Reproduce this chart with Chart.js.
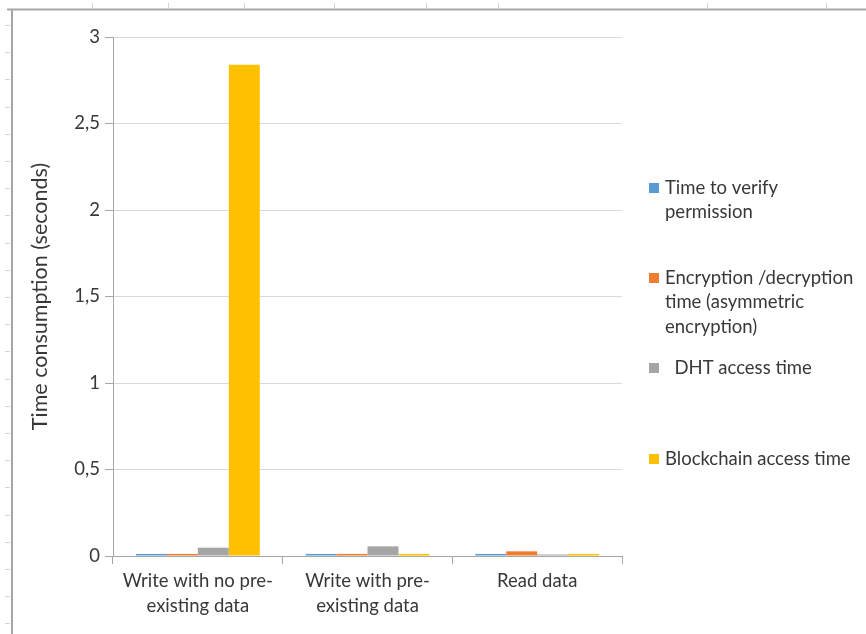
<!DOCTYPE html>
<html><head><meta charset="utf-8">
<script src="https://cdn.jsdelivr.net/npm/chart.js@4/dist/chart.umd.min.js"></script>
<style>html,body{margin:0;padding:0;background:#fff;overflow:hidden}#wrap{width:866px;height:634px;position:relative}</style>
</head><body><div id="wrap"><canvas id="c" width="866" height="634"></canvas></div>
<script>
// Categories, series and tick labels
const categories = [["Write with no pre-", "existing data"], ["Write with pre-", "existing data"], "Read data"];
const seriesNames = [
  ["Time to verify", "permission"],
  ["Encryption /decryption", "time (asymmetric", "encryption)"],
  ["  DHT access time"],
  ["Blockchain access time"]
];
const verifyTime = [0.012, 0.012, 0.012];
const cryptoTime = [0.012, 0.012, 0.027];
const dhtTime = [0.048, 0.056, 0.009];
const blockchainTime = [2.84, 0.012, 0.012];
const yTickLabels = ["0", "0,5", "1", "1,5", "2", "2,5", "3"];
const seriesColors = ["#5b9bd5", "#ed7d31", "#a5a5a5", "#ffc000"];

const FONT = "Lato, 'Open Sans', sans-serif";
const TEXT = "#383838";

// Sheet-style frame around the chart object
const framePlugin = {
  id: "frame",
  beforeDraw(chart) {
    const ctx = chart.ctx;
    ctx.save();
    ctx.fillStyle = "#fff";
    ctx.fillRect(0, 0, chart.width, chart.height);
    ctx.strokeStyle = "#d4d4d4";
    ctx.lineWidth = 1;
    [92, 168, 244, 334, 426, 498, 707, 826].forEach(x => {
      ctx.beginPath(); ctx.moveTo(x + 0.5, 3); ctx.lineTo(x + 0.5, 8); ctx.stroke();
    });
    for (let y = 25; y < chart.height; y += 27.2) {
      ctx.beginPath(); ctx.moveTo(5, Math.round(y) + 0.5); ctx.lineTo(10, Math.round(y) + 0.5); ctx.stroke();
    }
    ctx.strokeStyle = "#a6a6a6";
    ctx.lineWidth = 2;
    ctx.beginPath(); ctx.moveTo(7, 9.5); ctx.lineTo(chart.width, 9.5); ctx.stroke();
    ctx.beginPath(); ctx.moveTo(12, 9.5); ctx.lineTo(12, chart.height); ctx.stroke();
    ctx.restore();
  }
};

// Legend on the right, one block per series
const sideLegend = {
  id: "sideLegend",
  afterDraw(chart) {
    const ctx = chart.ctx;
    const rows = [188, 278, 368, 459];
    ctx.save();
    ctx.font = "18.5px " + FONT;
    ctx.textBaseline = "middle";
    ctx.textAlign = "left";
    chart.data.datasets.forEach((ds, i) => {
      const y = rows[i];
      ctx.fillStyle = ds.backgroundColor;
      ctx.fillRect(649, y - 5, 10, 10);
      ctx.fillStyle = TEXT;
      const lines = Array.isArray(ds.label) ? ds.label : [ds.label];
      lines.forEach((t, k) => ctx.fillText(t, 665, y + k * 24.5));
    });
    ctx.restore();
  }
};

new Chart(document.getElementById("c"), {
  type: "bar",
  data: {
    labels: categories,
    datasets: [
      { label: seriesNames[0], data: verifyTime, backgroundColor: seriesColors[0] },
      { label: seriesNames[1], data: cryptoTime, backgroundColor: seriesColors[1] },
      { label: seriesNames[2], data: dhtTime, backgroundColor: seriesColors[2] },
      { label: seriesNames[3], data: blockchainTime, backgroundColor: seriesColors[3] }
    ]
  },
  options: {
    responsive: false,
    animation: false,
    categoryPercentage: 0.73,
    barPercentage: 1,
    layout: { padding: { left: 12, right: 244, top: 37, bottom: 0 } },
    plugins: { legend: { display: false }, tooltip: { enabled: false } },
    scales: {
      x: {
        afterFit(s) { s.height = 78; },
        grid: { display: true, drawOnChartArea: false, offset: true, tickLength: 8, color: "#a6a6a6" },
        border: { color: "#a6a6a6" },
        ticks: { color: TEXT, font: { family: FONT, size: 18.5, lineHeight: 1.35 }, padding: 5, maxRotation: 0, autoSkip: false }
      },
      y: {
        min: 0, max: 3,
        afterFit(s) { s.width = 101; },
        grid: { color: "#d9d9d9", tickColor: "#a6a6a6", tickLength: 8 },
        border: { color: "#a6a6a6" },
        ticks: {
          stepSize: 0.5, color: TEXT, padding: 5,
          font: { family: FONT, size: 18.5 },
          callback: (v, i) => yTickLabels[i]
        },
        title: {
          display: true, text: "Time consumption (seconds)", color: TEXT,
          font: { family: FONT, size: 21.5 }, padding: { top: 15, bottom: 0 }
        }
      }
    }
  },
  plugins: [framePlugin, sideLegend]
});
</script>
</body></html>
